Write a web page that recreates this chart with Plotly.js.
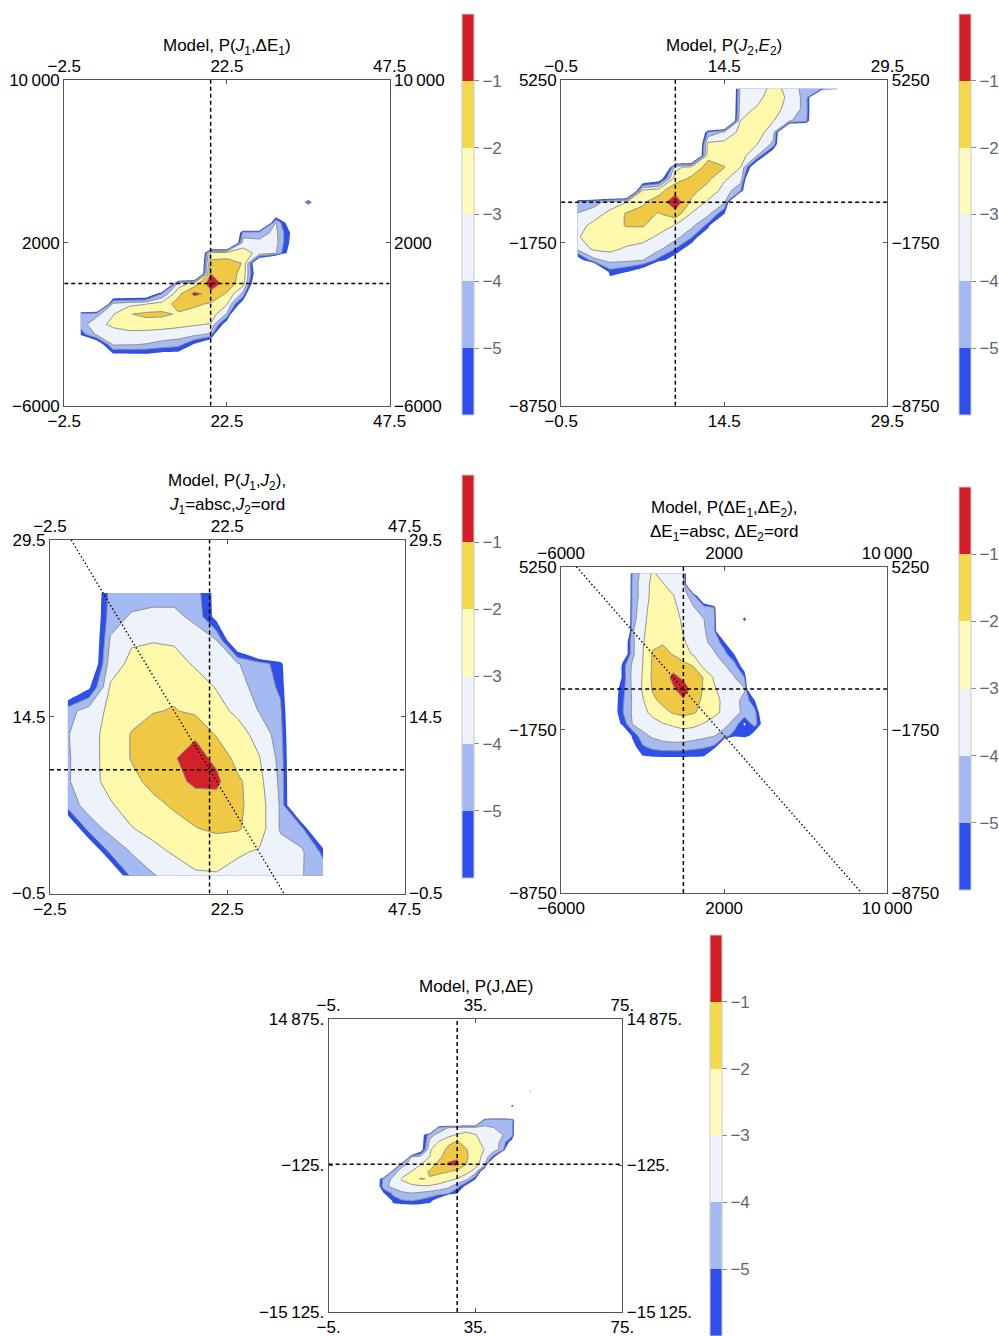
<!DOCTYPE html>
<html><head><meta charset="utf-8">
<script src="https://cdn.plot.ly/plotly-3.0.1.min.js"></script>
<style>html,body{margin:0;padding:0;background:#fff}#chart{width:999px;height:1336px}</style>
</head><body><div id="chart"></div>
<script>
// ================= DATA (log10 probability) =================
// Panel 1: P(J1, dE1)
const P1_J = [0,2.5,5,7.5,10,12.5,15,17.5,20,22.5,25,27.5,30,32.5,35,37.5];
const P1_DE = [-3500,-3000,-2500,-2000,-1500,-1000,-500,0,500,1000,1500,2000,2500,3000,3500,4000,4500];
const P1_LOGP = [
 [-12,-12,-6.3,-6.2,-6.2,-6.6,-6.6,-12,-12,-12,-12,-12,-12,-12,-12,-12],
 [-12,-7.5,-3.9,-3.95,-4.05,-4.3,-4.6,-6.2,-8,-12,-12,-12,-12,-12,-12,-12],
 [-5.6,-3.8,-3.4,-3.3,-3.4,-3.5,-3.5,-3.7,-4.2,-12,-12,-12,-12,-12,-12,-12],
 [-4.5,-3.3,-2.8,-2.5,-2.4,-2.5,-2.75,-2.9,-3.05,-7,-12,-12,-12,-12,-12,-12],
 [-4.6,-4.3,-3.05,-2.05,-1.8,-1.8,-2.1,-2.3,-2.4,-4.1,-12,-12,-12,-12,-12,-12],
 [-12,-12,-3.7,-3.3,-3.05,-2.6,-1.6,-1.85,-2.1,-2.9,-7,-12,-12,-12,-12,-12],
 [-12,-12,-8,-8,-8,-5.0,-2.3,-0.75,-1.3,-2.1,-4.3,-12,-12,-12,-12,-12],
 [-12,-12,-12,-12,-12,-12,-3.6,-2.6,-0.4,-1.4,-2.6,-9,-12,-12,-12,-12],
 [-12,-12,-12,-12,-12,-12,-12,-12,-1.0,-1.5,-2.3,-8,-12,-12,-12,-12],
 [-12,-12,-12,-12,-12,-12,-12,-12,-1.7,-1.6,-2.05,-9,-12,-12,-12,-12],
 [-12,-12,-12,-12,-12,-12,-12,-12,-2.6,-2.5,-2.6,-3.3,-3.9,-7,-12,-12],
 [-12,-12,-12,-12,-12,-12,-12,-12,-12,-12,-3.4,-3.7,-3.6,-6.5,-12,-12],
 [-12,-12,-12,-12,-12,-12,-12,-12,-12,-12,-4.6,-4.5,-3.7,-6.3,-12,-12],
 [-12,-12,-12,-12,-12,-12,-12,-12,-12,-12,-12,-12,-3.9,-7.5,-12,-12],
 [-12,-12,-12,-12,-12,-12,-12,-12,-12,-12,-12,-12,-8,-12,-12,-12],
 [-12,-12,-12,-12,-12,-12,-12,-12,-12,-12,-12,-12,-12,-12,-4.3,-12],
 [-12,-12,-12,-12,-12,-12,-12,-12,-12,-12,-12,-12,-12,-12,-12,-12]
];
const P1_CENTER = [20, 0];

// Panel 2: P(J2, E2)
const P2_J = [1,2.5,4,5.5,7,8.5,10,11.5,13,14.5,16,17.5,19,20.5,22,23.5,25];
const P2_E = [-3500,-3000,-2500,-2000,-1500,-1000,-500,0,500,1000,1500,2000,2500,3000,3500,4000,4500,4890];
const P2_LOGP = [
 [-12,-12,-7,-12,-12,-12,-12,-12,-12,-12,-12,-12,-12,-12,-12,-12,-12],
 [-12,-12,-5.4,-5.9,-7,-12,-12,-12,-12,-12,-12,-12,-12,-12,-12,-12,-12],
 [-7,-4.3,-3.7,-3.8,-4.0,-5.4,-7,-12,-12,-12,-12,-12,-12,-12,-12,-12,-12],
 [-3.7,-2.8,-2.7,-3.15,-3.3,-3.7,-5.0,-7,-12,-12,-12,-12,-12,-12,-12,-12,-12],
 [-3.1,-2.5,-2.3,-2.4,-2.7,-3.15,-3.6,-4.9,-8,-12,-12,-12,-12,-12,-12,-12,-12],
 [-3.4,-2.7,-2.3,-1.95,-1.9,-2.6,-3.05,-3.7,-5.3,-12,-12,-12,-12,-12,-12,-12,-12],
 [-3.95,-3.5,-2.7,-1.9,-1.8,-2.05,-1.4,-3.1,-3.7,-5.9,-12,-12,-12,-12,-12,-12,-12],
 [-4.6,-4.4,-3.6,-3.0,-2.1,-1.6,-0.3,-2.2,-3.15,-3.8,-12,-12,-12,-12,-12,-12,-12],
 [-12,-12,-12,-12,-2.8,-2.3,-1.4,-1.7,-2.4,-3.3,-4.9,-12,-12,-12,-12,-12,-12],
 [-12,-12,-12,-12,-8,-7,-2.4,-1.8,-1.8,-2.9,-3.4,-12,-12,-12,-12,-12,-12],
 [-12,-12,-12,-12,-12,-12,-3.3,-2.6,-1.7,-1.95,-3.0,-8,-12,-12,-12,-12,-12],
 [-12,-12,-12,-12,-12,-12,-12,-12,-2.2,-2.5,-2.5,-3.95,-8,-12,-12,-12,-12],
 [-12,-12,-12,-12,-12,-12,-12,-12,-2.7,-2.7,-2.5,-2.95,-4.2,-12,-12,-12,-12],
 [-12,-12,-12,-12,-12,-12,-12,-12,-4.8,-3.8,-2.7,-2.5,-3.6,-12,-12,-12,-12],
 [-12,-12,-12,-12,-12,-12,-12,-12,-12,-12,-3.0,-2.5,-2.95,-3.9,-4.5,-12,-12],
 [-12,-12,-12,-12,-12,-12,-12,-12,-12,-12,-3.3,-2.9,-2.6,-3.4,-4.3,-12,-12],
 [-12,-12,-12,-12,-12,-12,-12,-12,-12,-12,-3.5,-3.3,-2.5,-3.2,-4.4,-12,-12],
 [-12,-12,-12,-12,-12,-12,-12,-12,-12,-12,-3.6,-3.5,-2.7,-3.3,-4.5,-5.0,-5.5]
];
const P2_CENTER = [10, 0];

// Panel 3: P(J1, J2)
const P3_J1 = [0,3,6,9,12,15,18,21,24,27,30,33,36];
const P3_J2 = [1,3,5,7,9,11,13,15,17,19,21,23,25];
const P3_LOGP = [
 [-12,-12,-8,-4.7,-4.1,-3.6,-3.1,-3.05,-3.3,-3.6,-3.8,-3.95,-4.5],
 [-12,-8,-4.8,-3.95,-3.3,-2.9,-2.7,-2.75,-2.9,-3.1,-3.6,-3.85,-5.2],
 [-8,-4.5,-3.7,-3.05,-2.7,-2.3,-2.05,-1.8,-1.9,-2.5,-4.1,-4.6,-10],
 [-4.5,-3.6,-3.1,-2.6,-2.2,-1.9,-1.5,-1.4,-1.8,-2.5,-4.1,-10,-12],
 [-4.1,-3.35,-2.7,-2.2,-1.8,-1.3,-0.8,-0.8,-1.8,-2.7,-4.2,-10,-12],
 [-4.1,-3.4,-2.6,-1.95,-1.5,-1.05,-0.7,-1.2,-2.4,-2.95,-4.3,-10,-12],
 [-4.05,-3.4,-2.6,-1.95,-1.6,-1.05,-1.1,-2.1,-2.6,-3.35,-4.5,-10,-12],
 [-4.4,-3.5,-2.8,-2.3,-2.05,-1.95,-2.2,-2.7,-3.2,-4.05,-4.8,-10,-12],
 [-8,-6.2,-2.9,-2.4,-2.2,-2.2,-2.6,-3.05,-3.7,-4.3,-5.2,-10,-12],
 [-12,-8,-3.4,-2.8,-2.6,-2.7,-3.1,-3.5,-3.95,-4.5,-5.5,-10,-12],
 [-12,-8,-3.9,-3.1,-3.05,-3.1,-3.6,-4.0,-8,-12,-12,-12,-12],
 [-12,-8,-4.4,-3.9,-3.8,-3.8,-4.2,-6.5,-12,-12,-12,-12,-12],
 [-12,-8,-4.6,-4.4,-4.3,-4.3,-4.5,-6.5,-12,-12,-12,-12,-12]
];
const P3_CENTER = [20, 10];
const P3_DIAG_X = [0.5, 30.5];
const P3_DIAG_Y = [29.5, -0.5];

// Panel 4: P(dE1, dE2)
const P4_DE1 = [-3500,-3000,-2500,-2000,-1500,-1000,-500,0,500,1000,1500,2000,2500,3000,3500,4000];
const P4_DE2 = [-3000,-2500,-2000,-1500,-1000,-500,0,500,1000,1500,2000,2500,3000,3500,4000,4500,4964];
const P4_LOGP = [
 [-12,-12,-12,-6.3,-6.3,-6.3,-6.3,-6.3,-6.3,-6.3,-12,-12,-12,-12,-12,-12],
 [-12,-12,-6.5,-5.2,-4.7,-4.5,-4.45,-4.5,-4.7,-4.9,-5.2,-10,-12,-12,-12,-12],
 [-12,-8,-5.8,-4.3,-3.8,-3.55,-3.4,-3.4,-3.5,-3.7,-3.95,-4.4,-5.5,-5.0,-7,-12],
 [-7,-5.8,-3.95,-3.5,-3.25,-3.05,-2.9,-2.7,-2.8,-3.05,-3.4,-3.7,-4.3,-6.2,-4.4,-7],
 [-7,-5.1,-3.85,-3.2,-2.8,-2.3,-1.9,-1.7,-1.9,-2.3,-2.75,-3.2,-3.7,-4.2,-4.6,-8],
 [-7,-5.2,-3.9,-3.1,-2.2,-1.75,-1.45,-1.1,-1.6,-2.2,-2.7,-3.2,-3.7,-4.3,-5.8,-12],
 [-7,-5.4,-3.8,-2.9,-1.9,-1.5,-1.1,-0.6,-1.3,-2.1,-2.9,-3.3,-3.6,-3.9,-12,-12],
 [-12,-5.6,-3.7,-2.95,-1.8,-1.4,-0.8,-1.15,-1.5,-2.05,-3.1,-3.6,-3.95,-5.0,-12,-12],
 [-12,-5.5,-3.8,-3.0,-1.85,-1.55,-1.3,-1.6,-2.05,-3.3,-3.6,-3.9,-4.5,-7,-12,-12],
 [-12,-8,-4.2,-3.05,-1.9,-1.8,-2.05,-2.7,-3.1,-3.5,-3.85,-4.6,-6.0,-12,-12,-12],
 [-12,-8,-4.2,-3.1,-2.2,-2.05,-2.35,-2.9,-3.35,-3.8,-4.3,-5.5,-12,-12,-12,-12],
 [-12,-12,-4.1,-3.2,-2.4,-2.15,-2.5,-3.05,-3.5,-3.9,-4.5,-12,-12,-12,-12,-12],
 [-12,-12,-4.4,-3.3,-2.5,-2.3,-2.65,-3.15,-3.6,-3.98,-4.6,-12,-12,-4.8,-12,-12],
 [-12,-12,-4.5,-3.4,-2.6,-2.5,-2.8,-3.3,-3.95,-4.4,-4.9,-12,-12,-12,-12,-12],
 [-12,-12,-4.6,-3.55,-2.7,-2.6,-2.95,-3.6,-4.5,-9,-12,-12,-12,-12,-12,-12],
 [-12,-12,-4.6,-3.5,-2.75,-2.95,-3.4,-3.9,-12,-12,-12,-12,-12,-12,-12,-12],
 [-12,-12,-4.8,-3.6,-2.9,-3.3,-3.6,-3.9,-12,-12,-12,-12,-12,-12,-12,-12]
];
const P4_CENTER = [0, 0];
const P4_DIAG_X = [-5250, 8750];
const P4_DIAG_Y = [5250, -8750];

// Panel 5: P(J, dE)
const P5_J = [7.5,10,12.5,15,17.5,20,22.5,25,27.5,30,32.5,35,37.5,40,42.5,45,47.5,50,52.5];
const P5_DE = [-4500,-3750,-3000,-2250,-1500,-750,0,750,1500,2250,3000,3750,4500,5250,6000,6750,7500,8250];
const P5_LOGP = [
 [-12,-12,-7,-7,-7,-7,-7,-12,-12,-12,-12,-12,-12,-12,-12,-12,-12,-12,-12],
 [-12,-12,-5.5,-5.1,-5.0,-5.2,-5.6,-7,-12,-12,-12,-12,-12,-12,-12,-12,-12,-12,-12],
 [-12,-6.1,-4.8,-4.2,-4.05,-4.2,-4.4,-4.6,-4.9,-6.0,-12,-12,-12,-12,-12,-12,-12,-12,-12],
 [-8,-4.3,-3.7,-3.4,-3.2,-3.1,-3.1,-3.3,-3.7,-4.5,-6.5,-12,-12,-12,-12,-12,-12,-12,-12],
 [-8,-4.6,-3.8,-2.9,-2.4,-1.95,-2.05,-2.4,-2.7,-3.05,-3.6,-5.8,-12,-12,-12,-12,-12,-12,-12],
 [-12,-12,-4.5,-3.5,-3.0,-2.4,-1.9,-1.8,-1.95,-2.3,-2.7,-3.4,-8,-12,-12,-12,-12,-12,-12],
 [-12,-12,-12,-4.3,-3.7,-3.05,-2.5,-1.7,-0.9,-0.8,-2.0,-2.6,-3.6,-12,-12,-12,-12,-12,-12],
 [-12,-12,-12,-12,-4.0,-3.6,-3.0,-2.3,-1.3,-1.1,-1.85,-2.6,-3.3,-5.5,-12,-12,-12,-12,-12],
 [-12,-12,-12,-12,-12,-7,-3.1,-2.5,-1.8,-1.5,-1.95,-2.5,-3.05,-3.5,-4.5,-12,-12,-12,-12],
 [-12,-12,-12,-12,-12,-7,-3.8,-2.9,-2.2,-1.9,-2.3,-2.8,-3.2,-3.6,-4.3,-7,-12,-12,-12],
 [-12,-12,-12,-12,-12,-7,-4.3,-3.7,-3.3,-2.9,-2.7,-2.95,-3.4,-3.7,-4.0,-4.6,-12,-12,-12],
 [-12,-12,-12,-12,-12,-12,-12,-4.6,-4.0,-3.8,-3.5,-3.6,-3.9,-4.0,-4.3,-4.8,-12,-12,-12],
 [-12,-12,-12,-12,-12,-12,-12,-12,-12,-12,-12,-12,-4.3,-4.0,-4.0,-4.4,-12,-12,-12],
 [-12,-12,-12,-12,-12,-12,-12,-12,-12,-12,-12,-12,-12,-12,-12,-12,-12,-12,-12],
 [-12,-12,-12,-12,-12,-12,-12,-12,-12,-12,-12,-12,-12,-12,-12,-5.0,-12,-12,-12],
 [-12,-12,-12,-12,-12,-12,-12,-12,-12,-12,-12,-12,-12,-12,-12,-12,-12,-12,-12],
 [-12,-12,-12,-12,-12,-12,-12,-12,-12,-12,-12,-12,-12,-12,-12,-12,-12,-5.5,-12],
 [-12,-12,-12,-12,-12,-12,-12,-12,-12,-12,-12,-12,-12,-12,-12,-12,-12,-12,-12]
];
const P5_CENTER = [30, 0];

// Colour-bar tick labels
const CB_TICKS = [-1,-2,-3,-4,-5];
const CB_TEXT = ['\u22121','\u22122','\u22123','\u22124','\u22125'];

// ================= STYLE =================
const W = 999, H = 1336;
const FONT = 'Liberation Sans, Arial, Helvetica, sans-serif';
const FS = 17;
const FILL_SCALE = [[0,'#ffffff'],[1/6,'#2e4fe8'],[2/6,'#a5b9f2'],[3/6,'#eef2fa'],[4/6,'#fef9ab'],[5/6,'#efc846'],[1,'#d22129']];
const CB_COLORS = ['#2e4fe9','#a4b8f2','#eef1fa','#fffbbf','#f3d94b','#d32028'];
const CB_SCALE = [];
CB_COLORS.forEach((c,i)=>{CB_SCALE.push([i/6,c]); CB_SCALE.push([(i+1)/6,c]);});

const PANELS = [
 {x:P1_J, y:P1_DE, z:P1_LOGP, center:P1_CENTER, box:[64.3,80,390,405.7],
  xRange:[-2.5,47.5], xTicks:[-2.5,22.5,47.5], xText:['\u22122.5','22.5','47.5'],
  yRange:[-6000,10000], yTicks:[-6000,2000,10000], yText:['\u22126000','2000','10\u2009000'],
  titles:[{t:'Model, P(<i>J</i><sub>1</sub>,\u0394E<sub>1</sub>)', y:47}], cb:{x:462, top:14, len:401}},
 {x:P2_J, y:P2_E, z:P2_LOGP, center:P2_CENTER, box:[561.7,80,888.3,405.7],
  xRange:[-0.5,29.5], xTicks:[-0.5,14.5,29.5], xText:['\u22120.5','14.5','29.5'],
  yRange:[-8750,5250], yTicks:[-8750,-1750,5250], yText:['\u22128750','\u22121750','5250'],
  titles:[{t:'Model, P(<i>J</i><sub>2</sub>,<i>E</i><sub>2</sub>)', y:47}], cb:{x:959, top:14, len:401}},
 {x:P3_J1, y:P3_J2, z:P3_LOGP, center:P3_CENTER, diag:[P3_DIAG_X,P3_DIAG_Y], box:[50,540,405,893.5],
  xRange:[-2.5,47.5], xTicks:[-2.5,22.5,47.5], xText:['\u22122.5','22.5','47.5'],
  yRange:[-0.5,29.5], yTicks:[-0.5,14.5,29.5], yText:['\u22120.5','14.5','29.5'],
  titles:[{t:'Model, P(<i>J</i><sub>1</sub>,<i>J</i><sub>2</sub>),', y:482},{t:'<i>J</i><sub>1</sub>=absc,<i>J</i><sub>2</sub>=ord', y:506}],
  cb:{x:462, top:475, len:403}},
 {x:P4_DE1, y:P4_DE2, z:P4_LOGP, center:P4_CENTER, diag:[P4_DIAG_X,P4_DIAG_Y], box:[561.7,566.7,888,893],
  xRange:[-6000,10000], xTicks:[-6000,2000,10000], xText:['\u22126000','2000','10\u2009000'],
  yRange:[-8750,5250], yTicks:[-8750,-1750,5250], yText:['\u22128750','\u22121750','5250'],
  titles:[{t:'Model, P(\u0394E<sub>1</sub>,\u0394E<sub>2</sub>),', y:509},{t:'\u0394E<sub>1</sub>=absc, \u0394E<sub>2</sub>=ord', y:533}],
  cb:{x:959, top:487, len:403}},
 {x:P5_J, y:P5_DE, z:P5_LOGP, center:P5_CENTER, box:[329,1019,623,1312],
  xRange:[-5,75], xTicks:[-5,35,75], xText:['\u22125.','35.','75.'],
  yRange:[-15125,14875], yTicks:[-15125,-125,14875], yText:['\u221215\u2009125.','\u2212125.','14\u2009875.'],
  titles:[{t:'Model, P(J,\u0394E)', y:986}], cb:{x:710, top:935, len:401}}
];

const AX = {showgrid:false, zeroline:false, showline:true, linecolor:'#555', linewidth:1,
  ticks:'inside', ticklen:4, tickcolor:'#555', tickwidth:1, tickmode:'array',
  tickfont:{family:FONT, size:FS, color:'#000'}, fixedrange:true};

function ref(p,n){return n===1?p:p+n;}
function key(p,n){return n===1?p+'axis':p+'axis'+n;}

const traces = [];
const layout = {width:W, height:H, margin:{l:0,r:0,t:0,b:0,pad:0}, paper_bgcolor:'#fff', plot_bgcolor:'#fff',
  showlegend:false, annotations:[], font:{family:FONT, size:FS, color:'#000'}};

PANELS.forEach((P,i)=>{
  const nb = 2*i+1, nt = 2*i+2;
  const xa = ref('x',nb), ya = ref('y',nb), xt = ref('x',nt), yr = ref('y',nt);
  const [l,t,r,b] = P.box;
  layout[key('x',nb)] = Object.assign({}, AX, {domain:[l/W,r/W], range:P.xRange, anchor:ya, side:'bottom', tickvals:P.xTicks, ticktext:P.xText});
  layout[key('x',nt)] = Object.assign({}, AX, {overlaying:xa, range:P.xRange, anchor:ya, side:'top', tickvals:P.xTicks, ticktext:P.xText});
  layout[key('y',nb)] = Object.assign({}, AX, {domain:[1-b/H,1-t/H], range:P.yRange, anchor:xa, side:'left', tickvals:P.yTicks, ticktext:P.yText});
  layout[key('y',nt)] = Object.assign({}, AX, {overlaying:ya, range:P.yRange, anchor:xa, side:'right', tickvals:P.yTicks, ticktext:P.yText});

  traces.push({type:'contour', x:P.x, y:P.y, z:P.z, xaxis:xa, yaxis:ya, autocontour:false,
    contours:{start:-6, end:-1, size:1, coloring:'fill', showlines:false},
    colorscale:FILL_SCALE, showscale:false, line:{width:0, smoothing:0}, hoverinfo:'skip'});
  traces.push({type:'contour', x:P.x, y:P.y, z:P.z, xaxis:xa, yaxis:ya, autocontour:false,
    contours:{start:-5, end:-1, size:1, coloring:'none'},
    line:{color:'#8e8e8e', width:1, smoothing:0}, showscale:false, hoverinfo:'skip'});

  const dashLine = {color:'#000', width:1.5, dash:'4px,3px'};
  traces.push({type:'scatter', mode:'lines', x:[P.center[0],P.center[0]], y:P.yRange, xaxis:xa, yaxis:ya, line:dashLine, hoverinfo:'skip'});
  traces.push({type:'scatter', mode:'lines', x:P.xRange, y:[P.center[1],P.center[1]], xaxis:xa, yaxis:ya, line:dashLine, hoverinfo:'skip'});
  if(P.diag){
    traces.push({type:'scatter', mode:'lines', x:P.diag[0], y:P.diag[1], xaxis:xa, yaxis:ya,
      line:{color:'#000', width:1.4, dash:'1.4px,2.4px'}, hoverinfo:'skip'});
  }
  // colour bar (legend of the filled levels)
  traces.push({type:'scatter', mode:'markers', x:[1e12], y:[1e12], xaxis:xt, yaxis:yr, hoverinfo:'skip',
    marker:{size:1, color:[-3], cmin:-6, cmax:0, colorscale:CB_SCALE, showscale:true,
      colorbar:{thickness:12, thicknessmode:'pixels', len:P.cb.len, lenmode:'pixels',
        x:P.cb.x/W, xanchor:'left', y:1-P.cb.top/H, yanchor:'top', xpad:0, ypad:0,
        outlinewidth:1, outlinecolor:'#c9c9c9', borderwidth:0,
        tickmode:'array', tickvals:CB_TICKS, ticktext:CB_TEXT, ticks:'outside', ticklen:5,
        tickcolor:'#888', tickwidth:1, tickfont:{family:FONT, size:FS, color:'#666'}}}});

  P.titles.forEach(tt=>{
    layout.annotations.push({xref:'paper', yref:'paper', x:((l+r)/2)/W, y:1-tt.y/H, text:tt.t,
      showarrow:false, xanchor:'center', yanchor:'middle', font:{family:FONT, size:FS, color:'#000'}});
  });
});

Plotly.newPlot('chart', traces, layout, {displayModeBar:false, staticPlot:true});
</script>
</body></html>
